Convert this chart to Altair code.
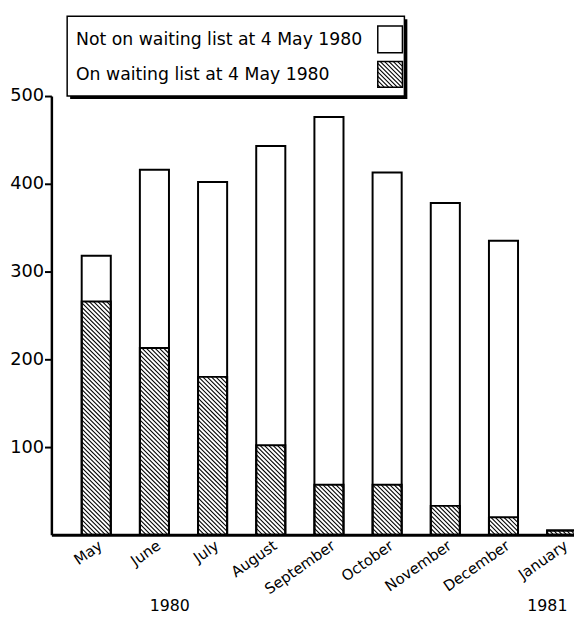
import altair as alt
import pandas as pd

# ---- data ----
months = ["May", "June", "July", "August", "September", "October", "November", "December", "January"]
total = [318, 416, 402, 443, 476, 413, 378, 335, 5]
on_list = [266, 213, 180, 102, 57, 57, 33, 20, 5]
legend_labels = ["Not on waiting list at  4 May 1980", "On waiting list at 4 May  1980"]
year_labels = ["1980", "1981"]
y_ticks = [100, 200, 300, 400, 500]

FONT = "DejaVu Sans"
W, H = 530, 445
XDOM = [-0.771, 8.212]
YDOM = [0, 500]
PX = W / (XDOM[1] - XDOM[0])   # pixels per x unit
PY = H / (YDOM[1] - YDOM[0])   # pixels per y unit
HALF = 0.25
STEP = 4.4  # hatch spacing in px

bars = pd.DataFrame({
    "i": list(range(len(months))),
    "month": months,
    "total": total,
    "on": on_list,
})
bars["x0"] = bars["i"] - HALF
bars["x1"] = bars["i"] + HALF

# hatch segments (\\\ direction) inside the "on waiting list" part of each bar
segs = []
for i, h in enumerate(on_list):
    X0, X1, Hh = (i - HALF) * PX, (i + HALF) * PX, h * PY
    c = X0 + STEP / 2
    while c < X1 + Hh:
        xa = max(X0, c - Hh)
        xb = min(X1, c)
        if xb > xa:
            segs.append({"x": xa / PX, "y": (c - xa) / PY, "x2": xb / PX, "y2": (c - xb) / PY})
        c += STEP
hatch = pd.DataFrame(segs)

xs = alt.Scale(domain=XDOM, nice=False, zero=False)
ys = alt.Scale(domain=YDOM, nice=False)

label_expr = "[" + ",".join("'%s'" % m for m in months) + "][datum.value]"

base_bars = alt.Chart(bars).mark_rect(fill="white", stroke="black", strokeWidth=2).encode(
    x=alt.X("x0:Q", scale=xs, axis=alt.Axis(
        values=list(range(len(months))), labelExpr=label_expr, title=None, ticks=False,
        domainWidth=3, domainColor="black", labelAngle=-35, labelAlign="right",
        labelBaseline="top", labelFont=FONT, labelFontSize=15, labelColor="black",
        labelPadding=3, labelOverlap=False, labelFlush=False, labelBound=False, grid=False)),
    x2="x1:Q",
    y=alt.Y("total:Q", scale=ys, axis=alt.Axis(
        values=y_ticks, title=None, grid=False, domainWidth=2.5, domainColor="black",
        tickSize=7, tickWidth=2, tickColor="black", labelFont=FONT, labelFontSize=18,
        labelColor="black", labelPadding=1)),
    y2=alt.datum(0),
)

hatch_rules = alt.Chart(hatch).mark_rule(color="black", strokeWidth=1.1).encode(
    x=alt.X("x:Q", scale=xs), x2="x2:Q",
    y=alt.Y("y:Q", scale=ys), y2="y2:Q",
)

on_bars = alt.Chart(bars).mark_rect(fill=None, stroke="black", strokeWidth=2).encode(
    x=alt.X("x0:Q", scale=xs), x2="x1:Q",
    y=alt.Y("on:Q", scale=ys), y2=alt.datum(0),
)

# ---- legend box (drawn manually, pixel positions relative to plot area) ----
one = bars.head(1)
shadow = alt.Chart(one).mark_rect(fill="black").encode(
    x=alt.value(19), x2=alt.value(361), y=alt.value(-78), y2=alt.value(3))
box = alt.Chart(one).mark_rect(fill="white", stroke="black", strokeWidth=1.5).encode(
    x=alt.value(16), x2=alt.value(358), y=alt.value(-81), y2=alt.value(0))
leg_text = alt.Chart(pd.DataFrame({"t": legend_labels, "py": [-57, -21]})).mark_text(
    align="left", baseline="middle", font=FONT, fontSize=17.5, color="black").encode(
    x=alt.value(25), y=alt.Y("py:Q", scale=None), text="t:N")
sq = pd.DataFrame({"px0": [331, 331], "px1": [356, 356], "py0": [-71, -35], "py1": [-44, -9]})
leg_sq = alt.Chart(sq).mark_rect(fill=None, stroke="black", strokeWidth=1.5).encode(
    x=alt.X("px0:Q", scale=None), x2="px1:Q",
    y=alt.Y("py0:Q", scale=None), y2="py1:Q")

lsegs = []
SX0, SX1, SY0, SY1 = 331, 356, -35, -9
sw, sh = SX1 - SX0, SY1 - SY0
c = STEP / 2
while c < sw + sh:
    ua = max(0, c - sh)
    ub = min(sw, c)
    if ub > ua:
        lsegs.append({"a": SX0 + ua, "b": SY1 - (c - ua), "a2": SX0 + ub, "b2": SY1 - (c - ub)})
    c += STEP
leg_hatch = alt.Chart(pd.DataFrame(lsegs)).mark_rule(color="black", strokeWidth=1.1).encode(
    x=alt.X("a:Q", scale=None), x2="a2:Q",
    y=alt.Y("b:Q", scale=None), y2="b2:Q")

years = alt.Chart(pd.DataFrame({"t": year_labels, "px": [120, 503]})).mark_text(
    align="center", baseline="middle", font=FONT, fontSize=16, color="black").encode(
    x=alt.X("px:Q", scale=None), y=alt.value(517), text="t:N")

chart = alt.layer(
    base_bars, hatch_rules, on_bars, shadow, box, leg_text, leg_sq, leg_hatch, years
).properties(
    width=W, height=H, autosize="none", background="white",
    padding={"left": 44, "top": 85, "right": 0, "bottom": 76},
).configure_view(stroke=None).configure_axis(grid=False)

chart.save("out.html", embed_options={"renderer": "svg", "actions": False})
